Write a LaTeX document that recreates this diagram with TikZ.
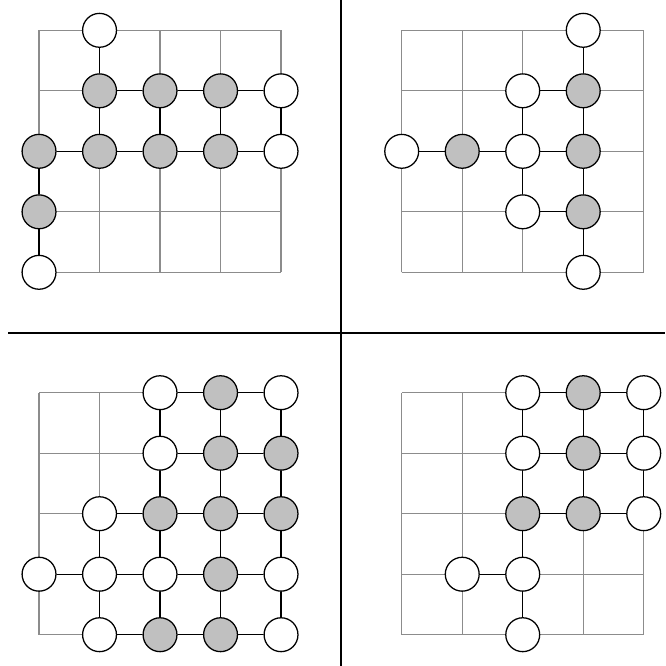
\documentclass[tikz,border=0pt]{standalone}
\definecolor{occgray}{RGB}{192,192,192}
\tikzset{
  vacant/.style={circle,draw,fill=white,minimum size=5.6mm,inner sep=0pt,line width=0.6pt},
  occupied/.style={vacant,fill=occgray},
  bond/.style={line width=0.6pt},
  lattice/.style={draw=black!45,line width=0.5pt},
  divider/.style={line width=1pt}
}

\begin{document}
\begin{tikzpicture}
  \useasboundingbox (0,0) rectangle (10.992,11.008);
  % separating lines
  \draw[divider] (5.641,0) -- (5.641,11.008);
  \draw[divider] (0.137,5.504) -- (10.992,5.504);

  % top left
  \begin{scope}[shift={(0.645,10.507)}]
    \draw[lattice] (0,0) grid (4,-4);
    \node[vacant] (tl10) at (1,0) {};
    \node[occupied] (tl11) at (1,-1) {};
    \node[occupied] (tl21) at (2,-1) {};
    \node[occupied] (tl31) at (3,-1) {};
    \node[vacant] (tl41) at (4,-1) {};
    \node[occupied] (tl02) at (0,-2) {};
    \node[occupied] (tl12) at (1,-2) {};
    \node[occupied] (tl22) at (2,-2) {};
    \node[occupied] (tl32) at (3,-2) {};
    \node[vacant] (tl42) at (4,-2) {};
    \node[occupied] (tl03) at (0,-3) {};
    \node[vacant] (tl04) at (0,-4) {};
    \draw[bond] (tl10) -- (tl11) -- (tl12);
    \draw[bond] (tl11) -- (tl21) -- (tl31) -- (tl41) -- (tl42);
    \draw[bond] (tl21) -- (tl22);
    \draw[bond] (tl31) -- (tl32);
    \draw[bond] (tl02) -- (tl12) -- (tl22) -- (tl32) -- (tl42);
    \draw[bond] (tl02) -- (tl03) -- (tl04);
  \end{scope}

  % top right
  \begin{scope}[shift={(6.64,10.507)}]
    \draw[lattice] (0,0) grid (4,-4);
    \node[vacant] (tr30) at (3,0) {};
    \node[vacant] (tr21) at (2,-1) {};
    \node[occupied] (tr31) at (3,-1) {};
    \node[vacant] (tr02) at (0,-2) {};
    \node[occupied] (tr12) at (1,-2) {};
    \node[vacant] (tr22) at (2,-2) {};
    \node[occupied] (tr32) at (3,-2) {};
    \node[vacant] (tr23) at (2,-3) {};
    \node[occupied] (tr33) at (3,-3) {};
    \node[vacant] (tr34) at (3,-4) {};
    \draw[bond] (tr30) -- (tr31) -- (tr32) -- (tr33) -- (tr34);
    \draw[bond] (tr21) -- (tr31);
    \draw[bond] (tr21) -- (tr22) -- (tr23) -- (tr33);
    \draw[bond] (tr02) -- (tr12) -- (tr22) -- (tr32);
  \end{scope}

  % bottom left
  \begin{scope}[shift={(0.645,4.517)}]
    \draw[lattice] (0,0) grid (4,-4);
    \node[vacant] (bl20) at (2,0) {};
    \node[occupied] (bl30) at (3,0) {};
    \node[vacant] (bl40) at (4,0) {};
    \node[vacant] (bl21) at (2,-1) {};
    \node[occupied] (bl31) at (3,-1) {};
    \node[occupied] (bl41) at (4,-1) {};
    \node[vacant] (bl12) at (1,-2) {};
    \node[occupied] (bl22) at (2,-2) {};
    \node[occupied] (bl32) at (3,-2) {};
    \node[occupied] (bl42) at (4,-2) {};
    \node[vacant] (bl03) at (0,-3) {};
    \node[vacant] (bl13) at (1,-3) {};
    \node[vacant] (bl23) at (2,-3) {};
    \node[occupied] (bl33) at (3,-3) {};
    \node[vacant] (bl43) at (4,-3) {};
    \node[vacant] (bl14) at (1,-4) {};
    \node[occupied] (bl24) at (2,-4) {};
    \node[occupied] (bl34) at (3,-4) {};
    \node[vacant] (bl44) at (4,-4) {};
    \draw[bond] (bl20) -- (bl30) -- (bl40);
    \draw[bond] (bl21) -- (bl31) -- (bl41);
    \draw[bond] (bl12) -- (bl22) -- (bl32) -- (bl42);
    \draw[bond] (bl03) -- (bl13) -- (bl23) -- (bl33) -- (bl43);
    \draw[bond] (bl14) -- (bl24) -- (bl34) -- (bl44);
    \draw[bond] (bl12) -- (bl13) -- (bl14);
    \draw[bond] (bl20) -- (bl21) -- (bl22) -- (bl23) -- (bl24);
    \draw[bond] (bl30) -- (bl31) -- (bl32) -- (bl33) -- (bl34);
    \draw[bond] (bl40) -- (bl41) -- (bl42) -- (bl43) -- (bl44);
  \end{scope}

  % bottom right
  \begin{scope}[shift={(6.64,4.517)}]
    \draw[lattice] (0,0) grid (4,-4);
    \node[vacant] (br20) at (2,0) {};
    \node[occupied] (br30) at (3,0) {};
    \node[vacant] (br40) at (4,0) {};
    \node[vacant] (br21) at (2,-1) {};
    \node[occupied] (br31) at (3,-1) {};
    \node[vacant] (br41) at (4,-1) {};
    \node[occupied] (br22) at (2,-2) {};
    \node[occupied] (br32) at (3,-2) {};
    \node[vacant] (br42) at (4,-2) {};
    \node[vacant] (br13) at (1,-3) {};
    \node[vacant] (br23) at (2,-3) {};
    \node[vacant] (br24) at (2,-4) {};
    \draw[bond] (br20) -- (br30) -- (br40);
    \draw[bond] (br21) -- (br31) -- (br41);
    \draw[bond] (br22) -- (br32) -- (br42);
    \draw[bond] (br13) -- (br23);
    \draw[bond] (br20) -- (br21) -- (br22) -- (br23) -- (br24);
    \draw[bond] (br30) -- (br31) -- (br32);
    \draw[bond] (br40) -- (br41) -- (br42);
  \end{scope}
\end{tikzpicture}
\end{document}
